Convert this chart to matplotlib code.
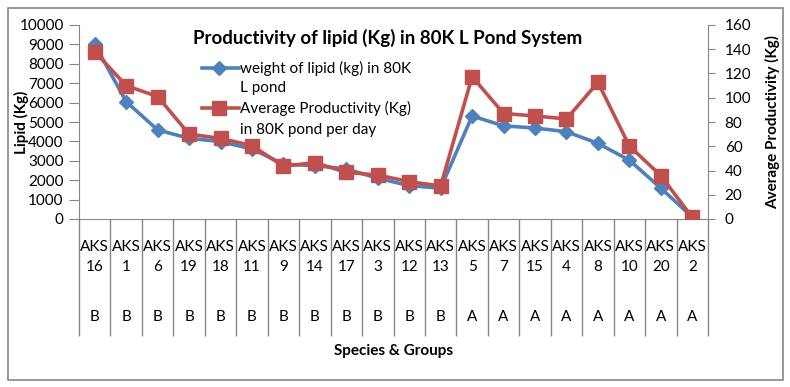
import matplotlib
matplotlib.use("Agg")
import matplotlib.pyplot as plt
from matplotlib.lines import Line2D
from matplotlib.patches import Rectangle
import matplotlib.transforms as mtransforms
import numpy as np

plt.rcParams['font.family'] = ['Lato', 'DejaVu Sans']

species = ["16", "1", "6", "19", "18", "11", "9", "14", "17", "3",
           "12", "13", "5", "7", "15", "4", "8", "10", "20", "2"]
groups = ["B"] * 12 + ["A"] * 8
lipid_weight = [9000, 6050, 4590, 4160, 3990, 3610, 2830, 2750, 2580, 2100,
                1720, 1590, 5310, 4800, 4690, 4500, 3900, 3030, 1590, 100]
avg_productivity = [138, 110, 101, 70, 66.5, 60.5, 43.5, 46.5, 38.5, 36.3,
                    30.8, 27.2, 117.4, 87, 85, 82.5, 112.7, 60.2, 35.7, 1.4]

blue = "#4F81BD"
red = "#C0504D"
axis_gray = "#868686"

fig = plt.figure(figsize=(7.9, 3.87), dpi=100)
ax = fig.add_axes([79/790, 1-219/387, 629/790, 194/387])
ax2 = ax.twinx()

x = np.arange(len(species))
ax.plot(x, lipid_weight, color=blue, lw=2.6, marker="D", ms=7.5,
        markeredgecolor=blue, zorder=3)
ax2.plot(x, avg_productivity, color=red, lw=2.6, marker="s", ms=10,
         markeredgecolor=red, zorder=3)

ax.set_xlim(-0.5, len(species) - 0.5)
ax.set_ylim(0, 10000)
ax2.set_ylim(0, 160)
ax.set_yticks(np.arange(0, 10001, 1000))
ax2.set_yticks(np.arange(0, 161, 20))

for a in (ax, ax2):
    for s in a.spines.values():
        s.set_color(axis_gray)
    a.spines['top'].set_visible(False)
ax.spines['right'].set_visible(False)
ax2.spines['left'].set_visible(False)
ax2.spines['bottom'].set_visible(False)

ax.tick_params(axis='y', length=7, color=axis_gray, labelsize=11, pad=4)
ax2.tick_params(axis='y', length=5, color=axis_gray, labelsize=11, pad=7)

# category labels
ax.set_xticks(x)
ax.set_xticklabels([f"AKS\n{s}" for s in species], fontsize=11, linespacing=1.55)
ax.tick_params(axis='x', which='major', length=0, pad=15)
ax.set_xticks(np.arange(-0.5, len(species), 1), minor=True)
ax.tick_params(axis='x', which='minor', length=84, color=axis_gray, width=1)

blend = mtransforms.blended_transform_factory(ax.transData, ax.transAxes)
for xi, g in zip(x, groups):
    ax.text(xi, -0.505, g, transform=blend, ha='center', va='center', fontsize=11)

fig.text(394/790, 1-351/387, "Species & Groups", ha='center', va='center',
         fontsize=11, fontweight='bold')
ax.set_ylabel("Lipid (Kg)", fontsize=11, fontweight='bold')
ax.yaxis.set_label_coords(-0.080, 0.5)
ax2.set_ylabel("Average Productivity (Kg)", fontsize=11, fontweight='bold')
ax2.yaxis.set_label_coords(1.090, 0.5)

fig.text(388/790, 1-38/387, "Productivity of lipid (Kg) in 80K L Pond System",
         ha='center', va='center', fontsize=13.5, fontweight='bold')

# manual legend
tr = ax.transAxes
for yline, color, mk, ms in [(0.778, blue, "D", 7.5), (0.572, red, "s", 10)]:
    ax.add_line(Line2D([0.195, 0.254], [yline, yline], transform=tr, color=color,
                       lw=2.6, clip_on=False, zorder=5))
    ax.add_line(Line2D([0.222], [yline], transform=tr, color=color, marker=mk,
                       ms=ms, clip_on=False, zorder=5))
legend_lines = [("weight of lipid (kg) in 80K", 0.778), ("L pond", 0.675),
                ("Average Productivity (Kg)", 0.572), ("in 80K pond per day", 0.459)]
for txt, yy in legend_lines:
    ax.text(0.256, yy, txt, transform=tr, ha='left', va='center', fontsize=11)

fig.patches.append(Rectangle((8/790, 7/387), 775/790, 372/387, transform=fig.transFigure,
                             fill=False, edgecolor=axis_gray, lw=1.2))

fig.savefig("out.png", dpi=100)
